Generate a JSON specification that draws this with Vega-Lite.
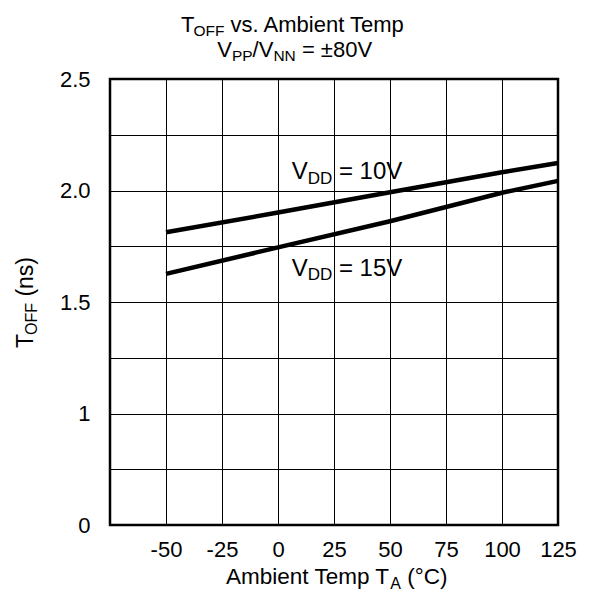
{
  "$schema": "https://vega.github.io/schema/vega-lite/v6.json",
  "width": 448,
  "height": 446,
  "autosize": {"type": "none"},
  "padding": {"left": 110, "top": 79, "right": 32, "bottom": 70},
  "background": "white",
  "config": {
    "view": {"stroke": "black", "strokeWidth": 2.5},
    "font": "Liberation Sans",
    "text": {"font": "Liberation Sans", "color": "black", "align": "left", "baseline": "alphabetic"},
    "axis": {
      "ticks": false,
      "domain": false,
      "grid": true,
      "gridColor": "black",
      "gridOpacity": 1,
      "gridWidth": 1,
      "labelColor": "black",
      "labelFont": "Liberation Sans",
      "labelFontSize": 22,
      "labelFlush": false,
      "labelOverlap": false,
      "title": null
    }
  },
  "layer": [
    {
      "data": {
        "values": [
          {"temp": -50, "toff": 1.813, "vdd": "10V"},
          {"temp": 0, "toff": 1.901, "vdd": "10V"},
          {"temp": 50, "toff": 1.992, "vdd": "10V"},
          {"temp": 100, "toff": 2.082, "vdd": "10V"},
          {"temp": 125, "toff": 2.123, "vdd": "10V"},
          {"temp": -50, "toff": 1.626, "vdd": "15V"},
          {"temp": 0, "toff": 1.745, "vdd": "15V"},
          {"temp": 50, "toff": 1.862, "vdd": "15V"},
          {"temp": 100, "toff": 1.99, "vdd": "15V"},
          {"temp": 125, "toff": 2.043, "vdd": "15V"}
        ]
      },
      "mark": {"type": "line", "color": "black", "strokeWidth": 4.5},
      "encoding": {
        "x": {
          "field": "temp", "type": "quantitative",
          "scale": {"domain": [-75, 125], "nice": false, "zero": false},
          "axis": {
            "values": [-75, -50, -25, 0, 25, 50, 75, 100, 125],
            "labelExpr": "datum.value == -75 ? '' : (datum.value < 0 ? '-' + abs(datum.value) : '' + datum.value)",
            "labelPadding": 14
          }
        },
        "y": {
          "field": "toff", "type": "quantitative",
          "scale": {"domain": [0.5, 2.5], "nice": false, "zero": false},
          "axis": {
            "values": [0.5, 0.75, 1, 1.25, 1.5, 1.75, 2, 2.25, 2.5],
            "labelExpr": "datum.value == 0.5 ? '0' : datum.value == 1 ? '1' : datum.value == 1.5 ? '1.5' : datum.value == 2 ? '2.0' : datum.value == 2.5 ? '2.5' : ''",
            "labelPadding": 20,
            "labelBaseline": "middle"
          }
        },
        "detail": {"field": "vdd"}
      }
    },
    {
      "data": {"values": [{"s": "T"}]},
      "mark": {"type": "text", "fontSize": 22, "dx": -96.9, "dy": -47.5},
      "encoding": {"x": {"datum": 0}, "y": {"datum": 2.5}, "text": {"field": "s"}}
    },
    {
      "data": {"values": [{"s": "OFF"}]},
      "mark": {"type": "text", "fontSize": 15.5, "dx": -84.5, "dy": -43.5},
      "encoding": {"x": {"datum": 0}, "y": {"datum": 2.5}, "text": {"field": "s"}}
    },
    {
      "data": {"values": [{"s": "vs. Ambient Temp"}]},
      "mark": {"type": "text", "fontSize": 22, "dx": -47.4, "dy": -47.5},
      "encoding": {"x": {"datum": 0}, "y": {"datum": 2.5}, "text": {"field": "s"}}
    },
    {
      "data": {"values": [{"s": "V"}]},
      "mark": {"type": "text", "fontSize": 22, "dx": -60.8, "dy": -22},
      "encoding": {"x": {"datum": 0}, "y": {"datum": 2.5}, "text": {"field": "s"}}
    },
    {
      "data": {"values": [{"s": "PP"}]},
      "mark": {"type": "text", "fontSize": 15.5, "dx": -46.1, "dy": -18},
      "encoding": {"x": {"datum": 0}, "y": {"datum": 2.5}, "text": {"field": "s"}}
    },
    {
      "data": {"values": [{"s": "/V"}]},
      "mark": {"type": "text", "fontSize": 22, "dx": -25.4, "dy": -22},
      "encoding": {"x": {"datum": 0}, "y": {"datum": 2.5}, "text": {"field": "s"}}
    },
    {
      "data": {"values": [{"s": "NN"}]},
      "mark": {"type": "text", "fontSize": 15.5, "dx": -4.6, "dy": -18},
      "encoding": {"x": {"datum": 0}, "y": {"datum": 2.5}, "text": {"field": "s"}}
    },
    {
      "data": {"values": [{"s": "= ±80V"}]},
      "mark": {"type": "text", "fontSize": 22, "dx": 23.9, "dy": -22},
      "encoding": {"x": {"datum": 0}, "y": {"datum": 2.5}, "text": {"field": "s"}}
    },
    {
      "data": {"values": [{"s": "V"}]},
      "mark": {"type": "text", "fontSize": 24, "dx": 13.7, "dy": -11.4},
      "encoding": {"x": {"datum": 0}, "y": {"datum": 2.0}, "text": {"field": "s"}}
    },
    {
      "data": {"values": [{"s": "DD"}]},
      "mark": {"type": "text", "fontSize": 17, "dx": 29.7, "dy": -7},
      "encoding": {"x": {"datum": 0}, "y": {"datum": 2.0}, "text": {"field": "s"}}
    },
    {
      "data": {"values": [{"s": "= 10V"}]},
      "mark": {"type": "text", "fontSize": 24, "dx": 60.9, "dy": -11.4},
      "encoding": {"x": {"datum": 0}, "y": {"datum": 2.0}, "text": {"field": "s"}}
    },
    {
      "data": {"values": [{"s": "V"}]},
      "mark": {"type": "text", "fontSize": 24, "dx": 13.7, "dy": 29.6},
      "encoding": {"x": {"datum": 0}, "y": {"datum": 1.75}, "text": {"field": "s"}}
    },
    {
      "data": {"values": [{"s": "DD"}]},
      "mark": {"type": "text", "fontSize": 17, "dx": 29.7, "dy": 34},
      "encoding": {"x": {"datum": 0}, "y": {"datum": 1.75}, "text": {"field": "s"}}
    },
    {
      "data": {"values": [{"s": "= 15V"}]},
      "mark": {"type": "text", "fontSize": 24, "dx": 60.9, "dy": 29.6},
      "encoding": {"x": {"datum": 0}, "y": {"datum": 1.75}, "text": {"field": "s"}}
    },
    {
      "data": {"values": [{"s": "Ambient Temp T"}]},
      "mark": {"type": "text", "fontSize": 22.5, "dx": -108, "dy": 59.3},
      "encoding": {"x": {"datum": 25}, "y": {"datum": 0.5}, "text": {"field": "s"}}
    },
    {
      "data": {"values": [{"s": "A"}]},
      "mark": {"type": "text", "fontSize": 16, "dx": 56.3, "dy": 63.5},
      "encoding": {"x": {"datum": 25}, "y": {"datum": 0.5}, "text": {"field": "s"}}
    },
    {
      "data": {"values": [{"s": "(°C)"}]},
      "mark": {"type": "text", "fontSize": 22.5, "dx": 73.3, "dy": 59.3},
      "encoding": {"x": {"datum": 25}, "y": {"datum": 0.5}, "text": {"field": "s"}}
    },
    {
      "data": {"values": [{"s": "T"}]},
      "mark": {"type": "text", "fontSize": 23, "angle": 270, "dx": -46, "dy": -77},
      "encoding": {"x": {"datum": -75}, "y": {"datum": 1.5}, "text": {"field": "s"}}
    },
    {
      "data": {"values": [{"s": "OFF"}]},
      "mark": {"type": "text", "fontSize": 16, "angle": 270, "dx": -33, "dy": -72.8},
      "encoding": {"x": {"datum": -75}, "y": {"datum": 1.5}, "text": {"field": "s"}}
    },
    {
      "data": {"values": [{"s": "(ns)"}]},
      "mark": {"type": "text", "fontSize": 23, "angle": 270, "dx": 5.4, "dy": -77},
      "encoding": {"x": {"datum": -75}, "y": {"datum": 1.5}, "text": {"field": "s"}}
    }
  ]
}
